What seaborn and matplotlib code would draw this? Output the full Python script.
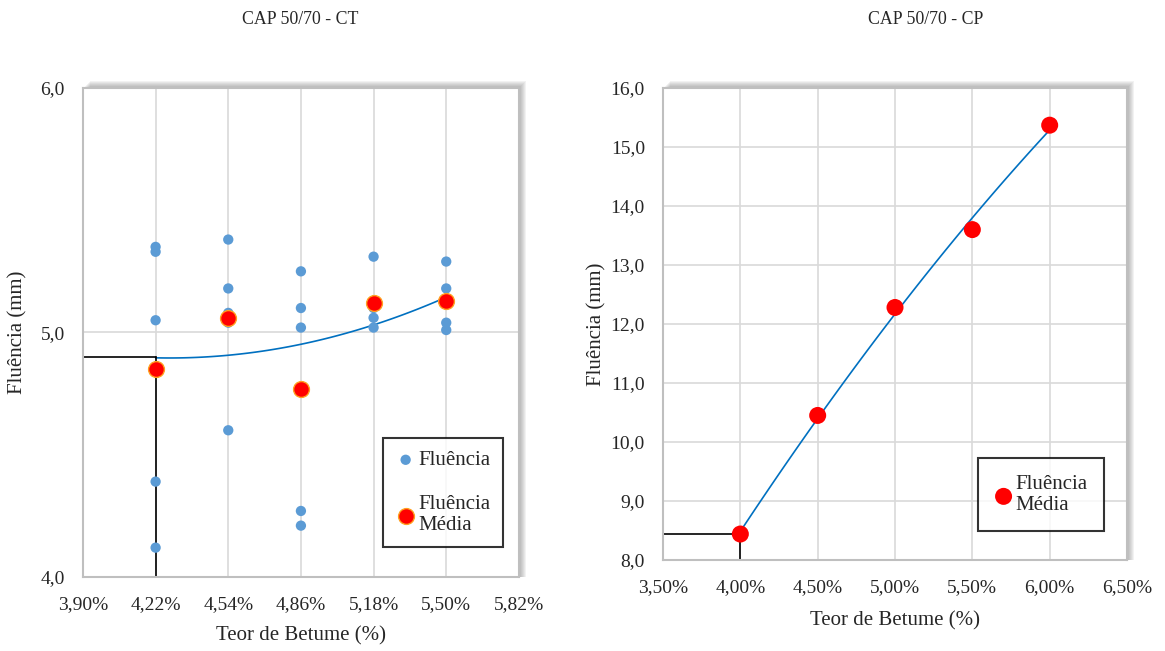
import matplotlib
matplotlib.use("Agg")
import pandas as pd
import matplotlib.pyplot as plt
import seaborn as sns
from matplotlib.patches import Rectangle

# dados - CT (teor de betume em %)
ct_teor = [4.22, 4.54, 4.86, 5.18, 5.50]
ct_fluencia = [
    [5.35, 5.33, 5.05, 4.39, 4.12],
    [5.38, 5.18, 5.08, 5.04, 4.60],
    [5.25, 5.10, 5.02, 4.27, 4.21],
    [5.31, 5.13, 5.10, 5.06, 5.02],
    [5.29, 5.18, 5.13, 5.04, 5.01],
]
ct_media = [4.85, 5.06, 4.77, 5.12, 5.13]
ct_opt = (4.22, 4.90)
ct_xticks = [3.90, 4.22, 4.54, 4.86, 5.18, 5.50, 5.82]
ct_yticks = [4.0, 5.0, 6.0]

# dados - CP
cp_teor = [4.00, 4.50, 5.00, 5.50, 6.00]
cp_media = [8.44, 10.45, 12.28, 13.60, 15.37]
cp_opt = (4.00, 8.44)
cp_xticks = [3.50, 4.00, 4.50, 5.00, 5.50, 6.00, 6.50]
cp_yticks = [8.0, 9.0, 10.0, 11.0, 12.0, 13.0, 14.0, 15.0, 16.0]

ct_pts = pd.DataFrame({
    'teor': [t for t, vals in zip(ct_teor, ct_fluencia) for _ in vals],
    'fluencia': [v for vals in ct_fluencia for v in vals],
})

sns.set_style('white')
plt.rcParams['font.family'] = ['Liberation Serif', 'DejaVu Serif']

AZUL = '#5b9bd5'
LINHA = '#0070c0'
GRADE = '#d9d9d9'
BORDA = '#bfbfbf'

fig = plt.figure(figsize=(11.65, 6.51), dpi=100)
ax1 = fig.add_axes([0.0712, 0.1137, 0.3742, 0.7512])
ax2 = fig.add_axes([0.5691, 0.1398, 0.3983, 0.7250])


def sombra(ax):
    x0, y0, w, h = ax.get_position().bounds
    for k in range(1, 8):
        fig.add_artist(Rectangle((x0 + k / 1165, y0), w, h + k / 651,
                                 transform=fig.transFigure, color='gray',
                                 alpha=0.10, lw=0, zorder=-1))


def formatar(ax, xticks, yticks, xdec):
    ax.set_xlim(xticks[0], xticks[-1])
    ax.set_ylim(yticks[0], yticks[-1])
    ax.set_xticks(xticks)
    ax.set_yticks(yticks)
    ax.set_xticklabels([f'{v:.{xdec}f}%'.replace('.', ',') for v in xticks])
    ax.set_yticklabels([f'{v:.1f}'.replace('.', ',') for v in yticks])
    ax.grid(True, color=GRADE, lw=1.2)
    ax.set_axisbelow(True)
    ax.tick_params(axis='x', length=0, labelsize=14, pad=14)
    ax.tick_params(axis='y', length=0, labelsize=14, pad=13)
    for s in ax.spines.values():
        s.set_color(BORDA)
        s.set_linewidth(1.5)
    ax.set_xlabel('Teor de Betume (%)', fontsize=15)
    ax.set_ylabel('Fluência (mm)', fontsize=15)


# ---- CT ----
sombra(ax1)
sns.regplot(x=ct_teor, y=ct_media, order=2, ci=None, scatter=False,
            line_kws={'color': LINHA, 'lw': 1.2}, ax=ax1)
sns.scatterplot(data=ct_pts, x='teor', y='fluencia', color=AZUL, s=55,
                edgecolor='none', label='Fluência', ax=ax1, zorder=3)
sns.scatterplot(x=ct_teor, y=ct_media, color='red', s=130, edgecolor='#ffa020',
                linewidth=1, label='Fluência\nMédia', ax=ax1, zorder=4)
ax1.plot([ct_xticks[0], ct_opt[0]], [ct_opt[1], ct_opt[1]], color='black', lw=1.2, zorder=2)
ax1.plot([ct_opt[0], ct_opt[0]], [ct_opt[1], ct_yticks[0]], color='black', lw=1.2, zorder=2)
formatar(ax1, ct_xticks, ct_yticks, 2)
ax1.yaxis.set_label_coords(-0.128, 0.5)
ax1.xaxis.set_label_coords(0.5, -0.10)
leg = ax1.legend(loc='lower right', bbox_to_anchor=(0.963, 0.061), fontsize=15,
                 frameon=True, fancybox=False, edgecolor='black', labelspacing=1.2,
                 handletextpad=0.1, handlelength=1.0, borderpad=0.6, borderaxespad=0)
leg.get_frame().set_linewidth(1.5)
for t in leg.get_texts():
    t.set_linespacing(1.1)

# ---- CP ----
sombra(ax2)
sns.regplot(x=cp_teor, y=cp_media, order=2, ci=None, scatter=False,
            line_kws={'color': LINHA, 'lw': 1.2}, ax=ax2)
sns.scatterplot(x=cp_teor, y=cp_media, color='red', s=150, edgecolor='none',
                label='Fluência\nMédia', ax=ax2, zorder=4)
ax2.plot([cp_xticks[0], cp_opt[0]], [cp_opt[1], cp_opt[1]], color='black', lw=1.2, zorder=2)
ax2.plot([cp_opt[0], cp_opt[0]], [cp_opt[1], cp_yticks[0]], color='black', lw=1.2, zorder=2)
formatar(ax2, cp_xticks, cp_yticks, 2)
ax2.yaxis.set_label_coords(-0.121, 0.5)
ax2.xaxis.set_label_coords(0.5, -0.108)
leg2 = ax2.legend(loc='lower right', bbox_to_anchor=(0.950, 0.061), fontsize=15,
                  frameon=True, fancybox=False, edgecolor='black',
                  handletextpad=0.1, handlelength=0.9, borderpad=0.8, borderaxespad=0)
leg2.get_frame().set_linewidth(1.5)
for t in leg2.get_texts():
    t.set_linespacing(1.1)

fig.text(300 / 1165, 1 - 19 / 651, 'CAP 50/70 - CT', ha='center', va='center', fontsize=12.8)
fig.text(926 / 1165, 1 - 19 / 651, 'CAP 50/70 - CP', ha='center', va='center', fontsize=12.8)

fig.savefig('out.png', dpi=100)
